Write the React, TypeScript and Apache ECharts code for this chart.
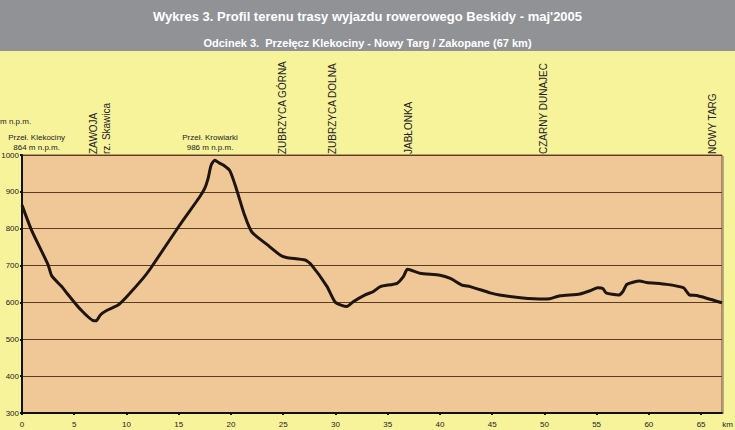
import React, { useEffect, useRef } from "react";
import * as echarts from "echarts";

const TITLE = "Wykres 3. Profil terenu trasy wyjazdu rowerowego Beskidy - maj'2005";
const SUBTITLE = "Odcinek 3.  Przełęcz Klekociny - Nowy Targ / Zakopane (67 km)";

const distanceKm = [
  0, 0.9, 2.5, 2.85, 3.8, 4.3, 5.5, 6.9, 7.1, 7.5, 8.1, 9.2, 10.0, 11.6, 12.3, 15.1,
  17.0, 17.5, 17.8, 18.1, 18.45, 18.9, 19.3, 19.9, 20.5, 21.3, 22.0, 23.5, 24.7, 25.3,
  27.1, 27.7, 29.2, 30.0, 31.1, 31.7, 32.8, 33.6, 34.3, 35.9, 36.5, 36.9, 38.1, 40.0,
  41.0, 42.1, 42.9, 44.8, 45.7, 47.7, 49.9, 50.5, 51.5, 53.4, 54.4, 55.1, 55.6, 55.9,
  57.1, 57.5, 57.9, 59.1, 59.8, 61.7, 63.3, 63.6, 63.9, 64.6, 67.0,
];
const elevationM = [
  864, 797, 702, 672, 643, 625, 584, 550, 550, 566, 578, 593, 615, 666, 692, 810,
  886, 910, 935, 972, 986, 978, 972, 957, 910, 837, 791, 756, 729, 722,
  715, 702, 643, 600, 589, 602, 620, 629, 643, 652, 670, 690, 679, 674,
  665, 647, 643, 626, 620, 613, 609, 610, 618, 623, 632, 640, 638, 626,
  620, 629, 649, 658, 654, 649, 640, 630, 620, 619, 599,
];

// Vertical place names (km position)
const placeNames = ["ZAWOJA", "rz. Skawica", "ZUBRZYCA GÓRNA", "ZUBRZYCA DOLNA", "JABŁONKA", "CZARNY DUNAJEC", "NOWY TARG"];
const placeKm = [6.8, 8.1, 24.9, 29.7, 37.0, 49.9, 66.1];

// Pass labels (two lines, horizontal)
const passNames = ["Przeł. Klekociny", "Przeł. Krowiarki"];
const passHeights = ["864 m n.p.m.", "986 m n.p.m."];
const passKm = [1.4, 18.0];

const xTicksMin = 0, xTicksMax = 67, xInterval = 5;
const yMin = 300, yMax = 1000, yInterval = 100;

export default function App() {
  const ref = useRef<HTMLDivElement>(null);
  useEffect(() => {
    if (!ref.current) return;
    const chart = echarts.init(ref.current, null, { renderer: "svg" });
    const font = "Liberation Sans";
    chart.setOption({
      animation: false,
      backgroundColor: "#f7f39b",
      textStyle: { fontFamily: font },
      title: [
        { text: TITLE, left: "center", top: 5, textStyle: { color: "#ffffff", fontSize: 13, fontWeight: "bold", fontFamily: font } },
        { text: SUBTITLE, left: "center", top: 32, textStyle: { color: "#ffffff", fontSize: 11, fontWeight: "bold", fontFamily: font } },
      ],
      grid: {
        left: 22, right: 13, top: 155, bottom: 17,
        containLabel: false, outerBoundsMode: "none",
        show: true, backgroundColor: "#f0c898", borderColor: "#6b4a2a", borderWidth: 1,
      },
      xAxis: {
        type: "value", min: xTicksMin, max: xTicksMax, interval: xInterval,
        axisLine: { show: true, onZero: false, lineStyle: { color: "#111", width: 2 } },
        axisTick: { show: true, length: 2, lineStyle: { color: "#111", width: 2 } },
        axisLabel: { fontSize: 8, color: "#222", margin: 7, showMaxLabel: false },
        splitLine: { show: false },
      },
      yAxis: {
        type: "value", min: yMin, max: yMax, interval: yInterval,
        axisLine: { show: true, lineStyle: { color: "#111", width: 2 } },
        axisTick: { show: true, length: 2, lineStyle: { color: "#111", width: 2 } },
        axisLabel: { fontSize: 8, color: "#222", margin: 3, formatter: (v: number) => String(v) },
        splitLine: { show: true, lineStyle: { color: "#5a3d22", width: 1 } },
      },
      series: [{
        type: "line",
        data: distanceKm.map((d, i) => [d, elevationM[i]]),
        showSymbol: false,
        smooth: 0.2,
        lineStyle: { color: "#1e1410", width: 3 },
        z: 5,
      }],
    });

    const graphics: any[] = [
      { type: "rect", shape: { x: 0, y: 0, width: 735, height: 51 }, style: { fill: "#909296" }, z: -1, silent: true },
      { type: "line", shape: { x1: 723.5, y1: 156, x2: 723.5, y2: 414 }, style: { stroke: "#b8a88a", lineWidth: 1 }, silent: true },
      { type: "text", x: 0, y: 121, style: { text: "m n.p.m.", fontSize: 8, fontFamily: font, fill: "#222", textAlign: "left", textVerticalAlign: "middle" } },
      { type: "text", x: 733, y: 424, style: { text: "km", fontSize: 8, fontFamily: font, fill: "#222", textAlign: "right", textVerticalAlign: "middle" } },
    ];
    placeNames.forEach((name, i) => {
      const p = chart.convertToPixel({ gridIndex: 0 }, [placeKm[i], yMax]) as number[];
      graphics.push({
        type: "text", x: p[0], y: p[1] - 1, rotation: Math.PI / 2,
        style: { text: name, fontSize: 10, fontFamily: font, fill: "#222", textAlign: "left", textVerticalAlign: "middle" },
      });
    });
    passNames.forEach((name, i) => {
      const p = chart.convertToPixel({ gridIndex: 0 }, [passKm[i], yMax]) as number[];
      graphics.push({
        type: "text", x: p[0], y: p[1] - 18,
        style: { text: name, fontSize: 8, fontFamily: font, fill: "#222", textAlign: "center", textVerticalAlign: "middle" },
      });
      graphics.push({
        type: "text", x: p[0], y: p[1] - 8,
        style: { text: passHeights[i], fontSize: 8, fontFamily: font, fill: "#222", textAlign: "center", textVerticalAlign: "middle" },
      });
    });
    chart.setOption({ graphic: graphics });
    return () => chart.dispose();
  }, []);
  return <div ref={ref} style={{ position: "fixed", left: 0, top: 0, width: 735, height: 430 }} />;
}
